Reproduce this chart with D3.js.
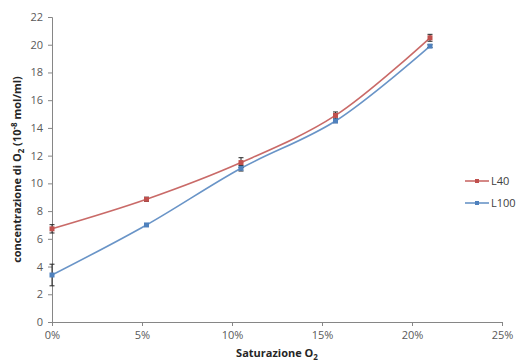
<!DOCTYPE html>
<meta charset="UTF-8">
<style>
body { margin: 0; background: #fff; }
.tick text { font: 11px "Open Sans", sans-serif; fill: #595959; }
.axis path, .axis line { stroke: #868686; }
.title { font: bold 11px "Open Sans", sans-serif; fill: #262626; }
.legend text { font: 11px "Open Sans", sans-serif; fill: #404040; }
</style>
<body>
<script src="https://d3js.org/d3.v7.min.js"></script>
<script>
// saturation (%) on x
var saturation = [0, 5.25, 10.5, 15.75, 21];
// L40 series and its error
var l40 = [6.72, 8.85, 11.5, 14.9, 20.5];
var l40Err = [0.3, 0.15, 0.35, 0.25, 0.25];
// L100 series and its error
var l100 = [3.39, 7.0, 11.09, 14.5, 19.9];
var l100Err = [0.78, 0.1, 0.2, 0.12, 0.1];
var xTicks = [0, 5, 10, 15, 20, 25];
var yTicks = [0, 2, 4, 6, 8, 10, 12, 14, 16, 18, 20, 22];

var series = [
  {name: "L40", values: l40, err: l40Err, color: "#C0504D"},
  {name: "L100", values: l100, err: l100Err, color: "#4F81BD"}
];

var width = 519, height = 363;
var svg = d3.select("body").append("svg")
    .attr("width", width)
    .attr("height", height);

var x = d3.scaleLinear().domain([0, 25]).range([52, 502]);
var y = d3.scaleLinear().domain([0, 22]).range([322, 17]);

// axes
svg.append("g")
    .attr("class", "axis")
    .attr("transform", "translate(0," + y(0) + ")")
    .call(d3.axisBottom(x).tickValues(xTicks).tickSizeOuter(0).tickSize(4).tickPadding(5)
      .tickFormat(function(d) { return d + "%"; }));

svg.append("g")
    .attr("class", "axis")
    .attr("transform", "translate(" + x(0) + ",0)")
    .call(d3.axisLeft(y).tickValues(yTicks).tickSizeOuter(0).tickSize(4).tickPadding(5));

// lines
var line = d3.line()
    .x(function(d) { return x(d[0]); })
    .y(function(d) { return y(d[1]); })
    .curve(d3.curveCatmullRom);

series.forEach(function(s) {
  var pts = saturation.map(function(v, i) { return [v, s.values[i]]; });
  svg.append("path")
      .datum(pts)
      .attr("fill", "none")
      .attr("stroke", s.color)
      .attr("stroke-opacity", 0.85)
      .attr("stroke-width", 1.6)
      .attr("d", line);
});

// error bars
series.forEach(function(s) {
  var g = svg.append("g");
  saturation.forEach(function(v, i) {
    var cx = x(v), top = y(s.values[i] + s.err[i]), bot = y(s.values[i] - s.err[i]);
    g.append("line").attr("x1", cx).attr("x2", cx).attr("y1", top).attr("y2", bot)
      .attr("stroke", "#262626").attr("stroke-width", 1);
    [top, bot].forEach(function(yy) {
      g.append("line").attr("x1", cx - 2.5).attr("x2", cx + 2.5).attr("y1", yy).attr("y2", yy)
        .attr("stroke", "#262626").attr("stroke-width", 1);
    });
  });
});

// markers
series.forEach(function(s) {
  svg.append("g").selectAll("rect")
    .data(saturation)
    .enter().append("rect")
      .attr("x", function(d) { return x(d) - 2.5; })
      .attr("y", function(d, i) { return y(s.values[i]) - 2.5; })
      .attr("width", 5)
      .attr("height", 5)
      .attr("fill", s.color);
});

// axis titles
svg.append("text")
    .attr("class", "title")
    .attr("transform", "translate(21," + y(11) + ") rotate(-90)")
    .attr("text-anchor", "middle")
    .html('concentrazione di O<tspan dy="3" font-size="8">2</tspan><tspan dy="-3"> (10</tspan><tspan dy="-4" font-size="8">-8</tspan><tspan dy="4"> mol/ml)</tspan>');

svg.append("text")
    .attr("class", "title")
    .attr("x", x(12.5))
    .attr("y", 357)
    .attr("text-anchor", "middle")
    .html('Saturazione O<tspan dy="3" font-size="8">2</tspan>');

// legend
var legend = svg.append("g").attr("class", "legend");
series.forEach(function(s, i) {
  var ly = 181 + i * 22;
  legend.append("line").attr("x1", 465).attr("x2", 489).attr("y1", ly).attr("y2", ly)
    .attr("stroke", s.color).attr("stroke-opacity", 0.85).attr("stroke-width", 1.6);
  legend.append("rect").attr("x", 475).attr("y", ly - 2).attr("width", 4).attr("height", 4)
    .attr("fill", s.color);
  legend.append("text").attr("x", 491).attr("y", ly + 4).text(s.name);
});
</script>
</body>
